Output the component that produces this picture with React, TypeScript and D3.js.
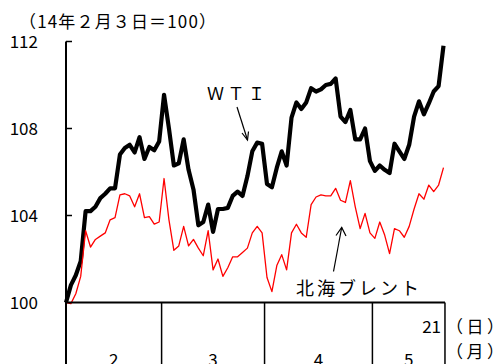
import React from "react";
import * as d3 from "d3";

const wti = [
  100.0, 100.8, 101.25, 101.9, 104.2, 104.2, 104.4, 104.8, 105.0, 105.25,
  105.25, 106.8, 107.1, 107.25, 106.9, 107.6, 106.6, 107.15, 107.0, 107.4,
  109.55, 108.0, 106.3, 106.4, 107.5, 106.1, 105.2, 103.55, 103.7, 104.5,
  103.25, 104.3, 104.3, 104.35, 104.9, 105.1, 104.9, 105.8, 106.95, 107.35,
  107.3, 105.45, 105.3, 106.2, 106.95, 106.3, 108.5, 109.2, 108.9, 109.2,
  109.85, 109.7, 109.8, 110.0, 110.05, 110.3, 108.55, 108.3, 108.85, 107.5,
  107.5, 108.0, 106.5, 106.05, 106.3, 106.1, 105.95, 107.3, 106.95, 106.6,
  107.25, 108.55, 109.25, 108.65, 109.15, 109.7, 109.95, 111.8,
];

const brent = [
  100.0, 99.95, 100.4, 101.2, 103.3, 102.55, 102.9, 103.05, 103.2, 103.8,
  103.9, 104.95, 105.0, 104.9, 104.4, 105.0, 103.9, 103.95, 103.6, 103.7,
  105.7, 103.8, 102.4, 102.6, 103.5, 102.6, 102.9, 102.5, 102.15, 103.3,
  101.5, 102.0, 101.2, 101.6, 102.1, 102.1, 102.3, 102.5, 103.2, 103.5,
  103.2, 101.15, 100.5, 101.7, 102.2, 101.5, 103.2, 103.6, 103.2, 103.0,
  104.5, 104.85, 104.95, 104.9, 104.9, 105.25, 104.7, 104.6, 105.6, 104.4,
  103.4, 104.1, 103.2, 102.95, 103.7, 103.1, 102.25, 103.4, 103.3, 103.0,
  103.5, 104.3, 105.0, 104.75, 105.4, 105.1, 105.4, 106.2,
];

const yTicks = [100, 104, 108, 112];
const months = ["2", "3", "4", "5"];
// month boundaries in day-index units (start, Feb|Mar, Mar|Apr, Apr|May, end)
const monthBounds = [0, 19.5, 40.5, 62.5, 77.3];
const lastDayLabel = "21";
const title = "（14年２月３日＝100）";

const FONT = "'Noto Sans CJK JP', 'Noto Sans', sans-serif";

export default function App() {
  const W = 496;
  const H = 364;
  const x = d3.scaleLinear().domain([0, 77]).range([66, 443.5]);
  const y = d3.scaleLinear().domain([100, 112]).range([302.5, 41.5]);

  const line = d3
    .line<number>()
    .x((_, i) => x(i))
    .y((d) => y(d));

  const x0 = x(0);
  const xEnd = x(monthBounds[monthBounds.length - 1]);
  const yBase = y(100);

  return (
    <svg
      width={W}
      height={H}
      style={{ position: "fixed", left: 0, top: 0, background: "#fff", display: "block" }}
      fontFamily={FONT}
    >
      <rect x={0} y={0} width={W} height={H} fill="#fff" />
      {/* title */}
      <text x={19} y={28} fontSize={17} fill="#000" textLength={197} lengthAdjust="spacing">
        {title}
      </text>

      {/* y tick labels */}
      {yTicks.map((t) => (
        <text
          key={t}
          x={38}
          y={y(t) + 6}
          fontSize={17}
          textAnchor="end"
          fill="#000"
        >
          {t}
        </text>
      ))}

      {/* series */}
      <path d={line(wti) || ""} fill="none" stroke="#000" strokeWidth={4.2} strokeLinejoin="round" />
      <path d={line(brent) || ""} fill="none" stroke="#ff0000" strokeWidth={1.3} strokeLinejoin="round" />

      {/* y axis */}
      <line x1={x0} x2={x0} y1={y(112)} y2={H} stroke="#000" strokeWidth={2} />
      {yTicks
        .filter((t) => t !== 100)
        .map((t) => (
          <line key={t} x1={x0} x2={x0 + 6} y1={y(t)} y2={y(t)} stroke="#000" strokeWidth={1.5} />
        ))}

      {/* x axis */}
      <line x1={x0 - 1} x2={xEnd} y1={yBase} y2={yBase} stroke="#000" strokeWidth={2} />
      {monthBounds.slice(1).map((b, i) => (
        <line key={i} x1={x(b)} x2={x(b)} y1={yBase} y2={H} stroke="#000" strokeWidth={1.5} />
      ))}
      {months.map((m, i) => (
        <text
          key={m}
          x={(x(monthBounds[i]) + x(monthBounds[i + 1])) / 2}
          y={366}
          fontSize={17}
          textAnchor="middle"
          fill="#000"
        >
          {m}
        </text>
      ))}
      <text x={441} y={332.5} fontSize={17} textAnchor="end" fill="#000">
        {lastDayLabel}
      </text>
      <text x={446} y={332.5} fontSize={17} letterSpacing={3.5} fill="#000">
        （日）
      </text>
      <text x={446} y={357.5} fontSize={17} letterSpacing={3.5} fill="#000">
        （月）
      </text>

      {/* WTI annotation */}
      <text x={207} y={99.5} fontSize={17} letterSpacing={3.5} fill="#000">
        ＷＴＩ
      </text>
      <line x1={237} y1={107} x2={247.5} y2={140} stroke="#000" strokeWidth={1.2} />
      <polyline points="242,133 247.5,140 248.5,131.5" fill="none" stroke="#000" strokeWidth={1.2} />

      {/* Brent annotation */}
      <text x={296} y={295} fontSize={18} letterSpacing={3} fill="#000">
        北海ブレント
      </text>
      <line x1={333.5} y1={271.5} x2={341.7} y2={227.5} stroke="#000" strokeWidth={1.2} />
      <polyline points="336,235.5 341.7,227.5 346,236" fill="none" stroke="#000" strokeWidth={1.2} />
    </svg>
  );
}
